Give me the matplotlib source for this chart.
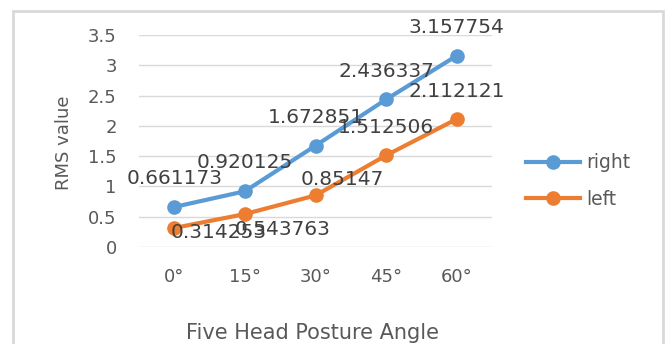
import matplotlib
matplotlib.use("Agg")
import matplotlib.pyplot as plt
from matplotlib.patches import Rectangle

# data
angles = ["0°", "15°", "30°", "45°", "60°"]
right_rms = [0.661173, 0.920125, 1.672851, 2.436337, 3.157754]
left_rms = [0.314253, 0.543763, 0.85147, 1.512506, 2.112121]

## label offsets in pixels (Excel put some of the orange ones off to the side)
right_offsets = [(0, 28), (0, 29), (0, 28), (0, 28), (0, 28)]
left_offsets = [(44, -5), (38, -15), (27, 16), (0, 28), (0, 28)]

BLUE = "#5B9BD5"
ORANGE = "#ED7D31"
GRID = "#D9D9D9"
TXT = "#595959"

plt.rcParams["font.family"] = ["DejaVu Sans"]

fig = plt.figure(figsize=(6.7, 3.44), dpi=100)
ax = fig.add_axes([139 / 670, 1 - 247 / 344, 353 / 670, 212 / 344])

# chart border like the excel chart area
fig.patches.append(Rectangle((13 / 670, -0.05), 650 / 670, 1 - 11 / 344 + 0.05,
                             transform=fig.transFigure, fill=False,
                             edgecolor=GRID, linewidth=2))

x = list(range(len(angles)))
ax.plot(x, right_rms, color=BLUE, linewidth=3, marker="o", markersize=9.5,
        label="right", zorder=3)
ax.plot(x, left_rms, color=ORANGE, linewidth=3, marker="o", markersize=9.5,
        label="left", zorder=3)

for xi, v, off in zip(x, right_rms, right_offsets):
    ax.annotate(str(v), (xi, v), xytext=off, textcoords="offset pixels",
                ha="center", va="center", fontsize=14.5, color="#404040",
                annotation_clip=False)
for xi, v, off in zip(x, left_rms, left_offsets):
    ax.annotate(str(v), (xi, v), xytext=off, textcoords="offset pixels",
                ha="center", va="center", fontsize=14.5, color="#404040",
                annotation_clip=False)

ax.set_xlim(-0.5, len(angles) - 0.5)
ax.set_ylim(0, 3.5)
ax.set_yticks([0, 0.5, 1, 1.5, 2, 2.5, 3, 3.5])
ax.set_yticklabels(["0", "0.5", "1", "1.5", "2", "2.5", "3", "3.5"])
ax.set_xticks(x)
ax.set_xticklabels(angles)
ax.tick_params(axis="both", length=0, labelsize=13, colors=TXT)
ax.tick_params(axis="y", pad=16)
ax.tick_params(axis="x", pad=15)
ax.grid(axis="y", color=GRID, linewidth=1)
ax.set_axisbelow(True)
for s in ax.spines.values():
    s.set_visible(False)

fig.text(64 / 670, 1 - 143 / 344, "RMS value", rotation=90, ha="center",
         va="center", fontsize=13, color=TXT)
fig.text(312 / 670, 1 - 333 / 344, "Five Head Posture Angle", ha="center",
         va="center", fontsize=15, color=TXT)

ax.legend(loc="center left", bbox_to_anchor=(526 / 670, 1 - 181 / 344),
          bbox_transform=fig.transFigure, frameon=False, fontsize=13.5,
          handlelength=2.9, handletextpad=0.3, labelspacing=0.95,
          labelcolor=TXT, borderpad=0, borderaxespad=0)

fig.savefig("out.png", dpi=100)
